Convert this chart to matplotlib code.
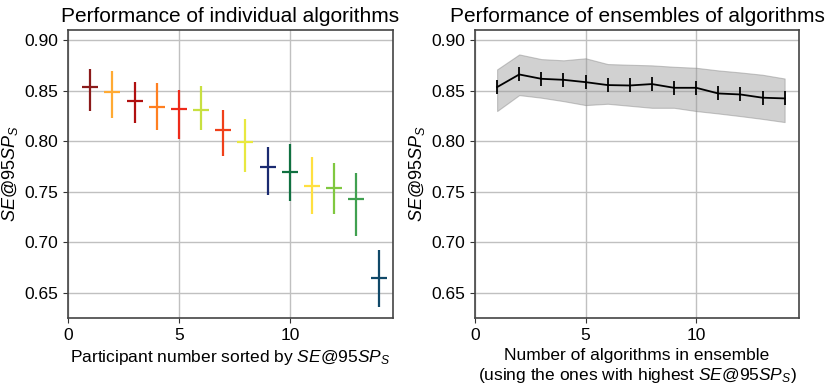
import numpy as np
import matplotlib
matplotlib.use("Agg")
from matplotlib import pyplot as plt

plt.rcParams['font.family'] = ['Liberation Sans', 'DejaVu Sans']
plt.rcParams['mathtext.fontset'] = 'custom'
plt.rcParams['mathtext.rm'] = 'Liberation Sans'
plt.rcParams['mathtext.it'] = 'Liberation Sans:italic'

##individual algorithms
participants = [1, 2, 3, 4, 5, 6, 7, 8, 9, 10, 11, 12, 13, 14]
indiv_score = [0.8535, 0.849, 0.8393, 0.8337, 0.8314, 0.8307, 0.8113, 0.7994,
               0.7743, 0.7694, 0.7559, 0.7536, 0.743, 0.6648]
indiv_upper = [0.871, 0.869, 0.8588, 0.858, 0.851, 0.8548, 0.8307, 0.8218,
               0.7941, 0.7974, 0.7842, 0.7786, 0.7687, 0.6925]
indiv_lower = [0.8298, 0.8225, 0.8179, 0.811, 0.8017, 0.8106, 0.7856, 0.7697,
               0.7466, 0.7407, 0.7282, 0.7275, 0.7057, 0.6358]
indiv_colors = ['#8b1a1a', '#ffaa33', '#b01010', '#ff7f20', '#ee2a1a', '#c8e040', '#f0401a',
                '#e8e840', '#1a2a70', '#107040', '#ffe040', '#80c840', '#40a050', '#104868']

##ensembles
n_algos = [1, 2, 3, 4, 5, 6, 7, 8, 9, 10, 11, 12, 13, 14]
ens_score = [0.8535, 0.866, 0.8617, 0.8607, 0.8584, 0.8555, 0.8551, 0.8565,
             0.8528, 0.8528, 0.8472, 0.8462, 0.843, 0.8423]
ens_upper = [0.871, 0.8858, 0.8812, 0.880, 0.882, 0.8763, 0.8756, 0.875,
             0.8736, 0.8726, 0.870, 0.868, 0.8657, 0.862]
ens_lower = [0.8298, 0.8456, 0.843, 0.8396, 0.8357, 0.837, 0.835, 0.833,
             0.833, 0.8298, 0.8274, 0.8248, 0.822, 0.8189]

metric = r'$SE@95SP_S$'

fig = plt.figure(figsize=(8.31, 3.89), dpi=100)
ax1 = fig.add_axes([68/831, 71/389, 325/831, 288/389])
ax2 = fig.add_axes([475/831, 71/389, 324/831, 288/389])

for i in range(len(participants)):
    err = [[indiv_score[i] - indiv_lower[i]], [indiv_upper[i] - indiv_score[i]]]
    ax1.errorbar(participants[i], indiv_score[i], yerr=err, fmt='_', color=indiv_colors[i],
                 markersize=11, mew=1.6, elinewidth=1.6, capsize=0, zorder=3)

ax2.fill_between(n_algos, ens_lower, ens_upper, color='#999999', alpha=0.45,
                 edgecolor='#888888', linewidth=0.8, zorder=2)
ax2.plot(n_algos, ens_score, color='black', linewidth=1.3, marker='|',
         markersize=10, mew=1.3, zorder=3)

for ax in (ax1, ax2):
    ax.set_xlim(0, 14.65)
    ax.set_ylim(0.625, 0.91)
    ax.set_xticks([0, 5, 10])
    ax.set_yticks([0.65, 0.70, 0.75, 0.80, 0.85, 0.90])
    ax.set_yticklabels(['0.65', '0.70', '0.75', '0.80', '0.85', '0.90'])
    ax.grid(True, color='#c0c0c0', linewidth=1.0)
    ax.set_axisbelow(True)
    ax.tick_params(labelsize=12.5, length=3.5, color='#333333')
    for s in ax.spines.values():
        s.set_color('#444444')
        s.set_linewidth(1.2)
    ax.set_ylabel(metric, fontsize=13, labelpad=3)

ax1.set_title('Performance of individual algorithms', fontsize=15, pad=6)
ax2.set_title('Performance of ensembles of algorithms', fontsize=15, pad=6)
ax1.set_xlabel('Participant number sorted by ' + metric, fontsize=12.5)
ax2.set_xlabel('Number of algorithms in ensemble\n(using the ones with highest ' + metric + ')',
               fontsize=12.5)

plt.savefig('out.png', dpi=100)
